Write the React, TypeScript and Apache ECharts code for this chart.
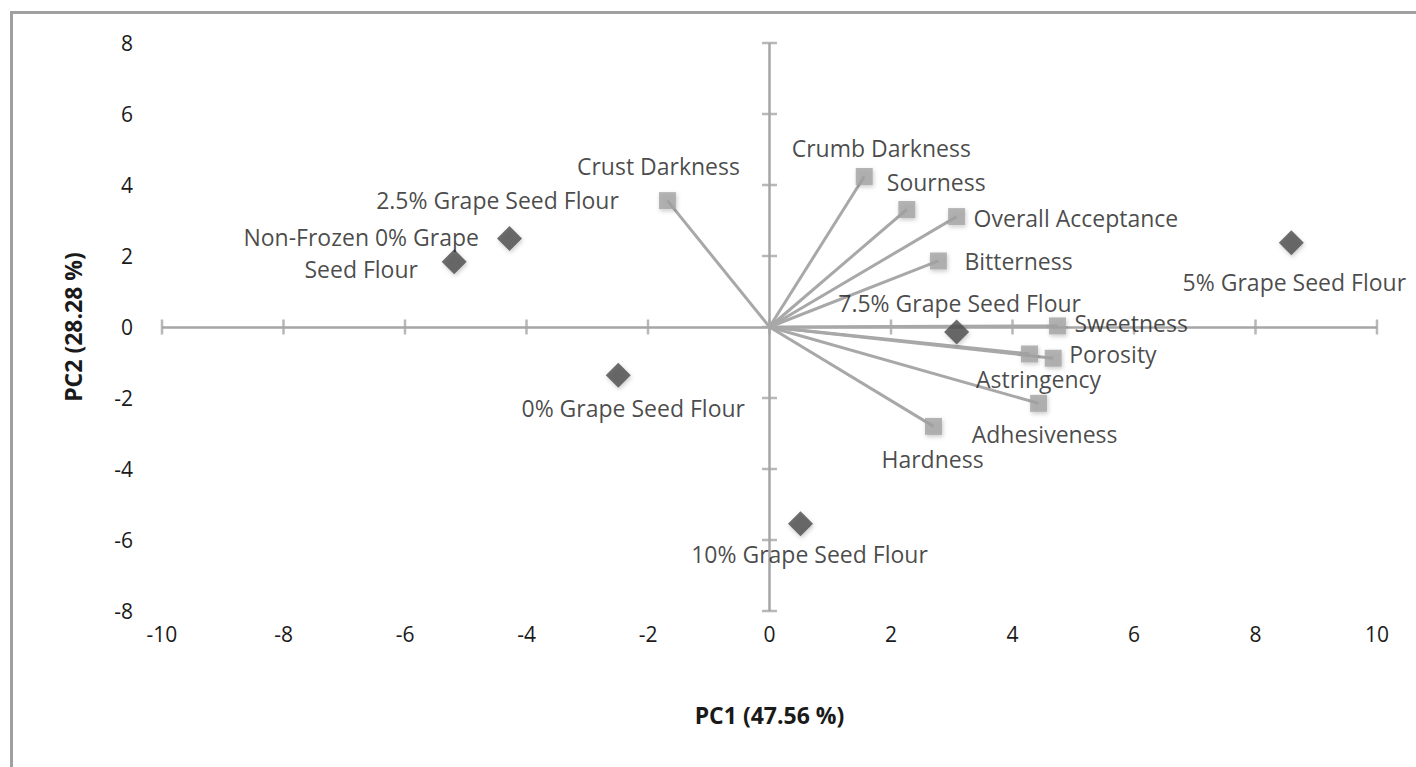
import React, { useEffect, useRef } from "react";
import * as echarts from "echarts";

// ---- data ----
const xTicks = [-10, -8, -6, -4, -2, 0, 2, 4, 6, 8, 10];
const yTicks = [-8, -6, -4, -2, 0, 2, 4, 6, 8];

const scoreNames = [
  "Non-Frozen 0% Grape\nSeed Flour",
  "2.5% Grape Seed Flour",
  "0% Grape Seed Flour",
  "10% Grape Seed Flour",
  "7.5% Grape Seed Flour",
  "5% Grape Seed Flour",
];
const scoreX = [-5.19, -4.28, -2.49, 0.51, 3.08, 8.59];
const scoreY = [1.84, 2.49, -1.36, -5.54, -0.14, 2.37];

const loadingNames = [
  "Crust Darkness",
  "Crumb Darkness",
  "Sourness",
  "Overall Acceptance",
  "Bitterness",
  "Sweetness",
  "Astringency",
  "Porosity",
  "Adhesiveness",
  "Hardness",
];
const loadingX = [-1.68, 1.56, 2.26, 3.08, 2.78, 4.74, 4.28, 4.67, 4.43, 2.7];
const loadingY = [3.56, 4.24, 3.31, 3.11, 1.86, 0.03, -0.76, -0.88, -2.15, -2.8];

// ---- label layout (align, dx, dy from marker centre, px) ----
const scoreLabelLayout: [string, number, number][] = [
  ["center", -93, -9],
  ["center", -12, -39],
  ["center", 15, 33],
  ["center", 9, 30],
  ["center", 3, -29],
  ["center", 3, 39],
];
const loadingLabelLayout: [string, number, number][] = [
  ["center", -9, -35],
  ["center", 17, -28],
  ["left", -20, -27],
  ["left", 17, 1],
  ["left", 26, 0],
  ["left", 17, -3],
  ["center", 9, 25],
  ["left", 16, -4],
  ["center", 6, 31],
  ["center", -1, 33],
];

const FONT = "'Open Sans'";
const FS_LABEL = 23;
const FS_TICK = 21;
const FS_TITLE = 23;
const TEXT = "#1a1a1a";
const AXIS_GRAY = "#a6a6a6";

export default function App() {
  const ref = useRef<HTMLDivElement>(null);
  useEffect(() => {
    if (!ref.current) return;
    const chart = echarts.init(ref.current, null, { renderer: "svg" });

    const labelBase = {
      show: true,
      position: "inside",
      color: TEXT,
      fontFamily: FONT,
      fontSize: FS_LABEL,
      lineHeight: 24,
      verticalAlign: "middle",
    };

    const scoreData = scoreNames.map((n, i) => ({
      name: n,
      value: [scoreX[i], scoreY[i]],
      label: {
        ...labelBase,
        lineHeight: n.includes("\n") ? 32 : 24,
        formatter: n,
        align: scoreLabelLayout[i][0],
        offset: [scoreLabelLayout[i][1], scoreLabelLayout[i][2]],
      },
    }));
    const loadingData = loadingNames.map((n, i) => ({
      name: n,
      value: [loadingX[i], loadingY[i]],
      label: {
        ...labelBase,
        formatter: n,
        align: loadingLabelLayout[i][0],
        offset: [loadingLabelLayout[i][1], loadingLabelLayout[i][2]],
      },
    }));

    const xMin = xTicks[0];
    const xMax = xTicks[xTicks.length - 1];
    const yMin = yTicks[0];
    const yMax = yTicks[yTicks.length - 1];

    chart.setOption({
      animation: false,
      backgroundColor: "#ffffff",
      graphic: [
        {
          type: "rect",
          left: 9,
          top: 10,
          shape: { width: 1440, height: 800 },
          style: { fill: "none", stroke: "#a0a0a0", lineWidth: 3 },
          silent: true,
          z: -10,
        },
      ],
      grid: { left: 162, right: 39, top: 43, bottom: 156 },
      xAxis: {
        type: "value",
        min: xMin,
        max: xMax,
        interval: 2,
        axisLine: { show: false, onZero: false },
        axisTick: { show: false },
        splitLine: { show: false },
        axisLabel: { margin: 12, color: TEXT, fontFamily: FONT, fontSize: FS_TICK },
        name: "PC1 (47.56 %)",
        nameLocation: "middle",
        nameGap: 92,
        nameTextStyle: { color: TEXT, fontFamily: FONT, fontSize: FS_TITLE, fontWeight: "bold" },
      },
      yAxis: {
        type: "value",
        min: yMin,
        max: yMax,
        interval: 2,
        axisLine: { show: false, onZero: false },
        axisTick: { show: false },
        splitLine: { show: false },
        axisLabel: { margin: 29, color: TEXT, fontFamily: FONT, fontSize: FS_TICK },
        name: "PC2 (28.28 %)",
        nameLocation: "middle",
        nameGap: 78,
        nameRotate: 90,
        nameTextStyle: { color: TEXT, fontFamily: FONT, fontSize: FS_TITLE, fontWeight: "bold" },
      },
      series: [
        {
          type: "lines",
          coordinateSystem: "cartesian2d",
          silent: true,
          z: 1,
          lineStyle: { color: AXIS_GRAY, width: 2.5, opacity: 1 },
          data: [
            { coords: [[xMin, 0], [xMax, 0]] },
            { coords: [[0, yMin], [0, yMax]] },
          ],
        },
        {
          type: "scatter",
          silent: true,
          z: 1,
          symbol: "rect",
          symbolSize: [2.5, 15],
          itemStyle: { color: AXIS_GRAY },
          data: xTicks.map((t) => [t, 0]),
        },
        {
          type: "scatter",
          silent: true,
          z: 1,
          symbol: "rect",
          symbolSize: [15, 2.5],
          itemStyle: { color: AXIS_GRAY },
          data: yTicks.map((t) => [0, t]),
        },
        {
          type: "lines",
          coordinateSystem: "cartesian2d",
          silent: true,
          z: 2,
          lineStyle: { color: "#a8a8a8", width: 3, opacity: 1 },
          data: loadingNames.map((_, i) => ({
            coords: [[0, 0], [loadingX[i], loadingY[i]]],
          })),
        },
        {
          type: "scatter",
          name: "Attributes",
          z: 3,
          symbol: "rect",
          symbolSize: 17,
          itemStyle: {
            color: "#a3a3a3",
            shadowColor: "rgba(0,0,0,0.25)",
            shadowBlur: 4,
            shadowOffsetX: 1,
            shadowOffsetY: 2,
          },
          data: loadingData,
        },
        {
          type: "scatter",
          name: "Samples",
          z: 4,
          symbol: "diamond",
          symbolSize: 25,
          itemStyle: {
            color: "#4a4a4a",
            shadowColor: "rgba(0,0,0,0.25)",
            shadowBlur: 4,
            shadowOffsetX: 1,
            shadowOffsetY: 2,
          },
          data: scoreData,
        },
      ],
    });
    return () => chart.dispose();
  }, []);

  return <div ref={ref} style={{ width: 1416, height: 767, position: "absolute", left: 0, top: 0 }} />;
}
